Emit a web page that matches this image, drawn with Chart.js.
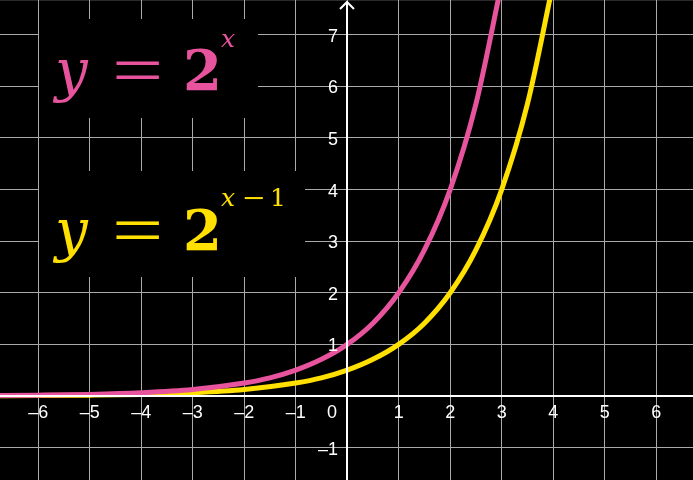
<!DOCTYPE html>
<html>
<head>
<meta charset="utf-8">
<script src="https://cdn.jsdelivr.net/npm/chart.js@4.4.1/dist/chart.umd.min.js"></script>
<style>
  html, body { margin: 0; padding: 0; background: #000; }
  canvas { display: block; }
</style>
</head>
<body>
<canvas id="expChart" width="693" height="480"></canvas>
<script>
// values
var pinkX = [-7, -6, -5, -4, -3, -2, -1.5, -1, -0.5, 0, 0.5, 1, 1.5, 2, 2.5, 3];
var pinkY = [0.008, 0.016, 0.031, 0.063, 0.125, 0.25, 0.35, 0.5, 0.71, 1, 1.41, 2, 2.83, 4, 5.66, 8];

var yellowX = [-7, -6, -5, -4, -3, -2, -1, -0.5, 0, 0.5, 1, 1.5, 2, 2.5, 3, 3.5, 4];
var yellowY = [0.004, 0.008, 0.016, 0.031, 0.063, 0.125, 0.25, 0.35, 0.5, 0.71, 1, 1.41, 2, 2.83, 4, 5.66, 8];

var xTicks = [-6, -5, -4, -3, -2, -1, 0, 1, 2, 3, 4, 5, 6];
var yTicks = [-1, 0, 1, 2, 3, 4, 5, 6, 7];

var PINK = 'rgb(231, 83, 156)';
var YELLOW = 'rgb(255, 224, 0)';
var GRID = 'rgb(170, 170, 170)';

function toPoints(xs, ys) {
    var pts = [];
    for (var i = 0; i < xs.length; i++) {
        pts.push({ x: xs[i], y: ys[i] });
    }
    return pts;
}

function label(v) {
    // en dash like the picture
    return v < 0 ? '\u2013' + Math.abs(v) : String(v);
}

// draws "y = 2" with the base line at by
function drawFormula(ctx, color, by) {
    ctx.fillStyle = color;
    ctx.font = 'italic 58px "DejaVu Serif"';
    ctx.fillText('y', 55, by);
    ctx.save();
    ctx.translate(112, by + 4);
    ctx.scale(1.3, 1);
    ctx.font = '70px "Liberation Serif"';
    ctx.fillText('=', 0, 0);
    ctx.restore();
    ctx.font = 'bold 56px "DejaVu Serif"';
    ctx.fillText('2', 183, by);
}

var drawExtras = {
    id: 'drawExtras',
    beforeDraw: function (chart) {
        var ctx = chart.ctx;
        ctx.save();
        ctx.fillStyle = '#000';
        ctx.fillRect(0, 0, chart.width, chart.height);
        ctx.fillStyle = '#2b2b2b';
        ctx.fillRect(0, 0, chart.width, 1);
        ctx.restore();
    },
    beforeDatasetsDraw: function (chart) {
        var ctx = chart.ctx;
        ctx.save();
        // black boxes behind the formulas
        ctx.fillStyle = '#000';
        ctx.fillRect(39, 19, 219, 99);
        ctx.fillRect(39, 171, 266, 106);

        ctx.textAlign = 'left';
        ctx.textBaseline = 'alphabetic';

        // y = 2^x
        drawFormula(ctx, PINK, 90);
        ctx.font = 'italic 25px "DejaVu Serif"';
        ctx.fillText('x', 221, 47);

        // y = 2^(x-1)
        drawFormula(ctx, YELLOW, 250);
        ctx.font = 'italic 25px "DejaVu Serif"';
        ctx.fillText('x', 221, 206);
        ctx.font = '25px "DejaVu Serif"';
        ctx.save();
        ctx.translate(242, 206);
        ctx.scale(1.15, 1);
        ctx.fillText('\u2212', 0, 0);
        ctx.restore();
        ctx.fillText('1', 270, 206);
        ctx.restore();
    },
    afterDraw: function (chart) {
        var ctx = chart.ctx;
        var xs = chart.scales.x;
        var ys = chart.scales.y;
        var ox = Math.round(xs.getPixelForValue(0));
        var oy = Math.round(ys.getPixelForValue(0));
        ctx.save();
        // axes
        ctx.strokeStyle = '#fff';
        ctx.lineWidth = 2;
        ctx.beginPath();
        ctx.moveTo(0, oy);
        ctx.lineTo(chart.width, oy);
        ctx.moveTo(ox, chart.height);
        ctx.lineTo(ox, 2);
        ctx.stroke();
        // arrow head on y axis
        ctx.beginPath();
        ctx.moveTo(ox - 7, 9);
        ctx.lineTo(ox, 2);
        ctx.lineTo(ox + 7, 9);
        ctx.stroke();

        // tick labels
        ctx.fillStyle = '#fff';
        ctx.font = '18px "Liberation Sans"';
        ctx.textBaseline = 'middle';
        ctx.textAlign = 'center';
        xTicks.forEach(function (v) {
            if (v === 0) return;
            ctx.fillText(label(v), xs.getPixelForValue(v), oy + 17);
        });
        ctx.fillText('0', ox - 15, oy + 17);
        ctx.textAlign = 'right';
        yTicks.forEach(function (v) {
            if (v === 0) return;
            ctx.fillText(label(v), ox - 9, ys.getPixelForValue(v) + 2);
        });
        ctx.restore();
    }
};

var ctx = document.getElementById('expChart').getContext('2d');
var chart = new Chart(ctx, {
    type: 'line',
    data: {
        datasets: [{
            label: 'y = 2^x',
            data: toPoints(pinkX, pinkY),
            borderColor: PINK,
            borderWidth: 5,
            pointRadius: 0,
            cubicInterpolationMode: 'monotone',
            fill: false
        }, {
            label: 'y = 2^(x-1)',
            data: toPoints(yellowX, yellowY),
            borderColor: YELLOW,
            borderWidth: 5,
            pointRadius: 0,
            cubicInterpolationMode: 'monotone',
            fill: false
        }]
    },
    options: {
        responsive: false,
        animation: false,
        events: [],
        layout: { padding: 0 },
        plugins: {
            legend: { display: false },
            tooltip: { enabled: false }
        },
        scales: {
            x: {
                type: 'linear',
                min: -6.742,
                max: 6.715,
                afterBuildTicks: function (scale) {
                    scale.ticks = xTicks.map(function (v) { return { value: v }; });
                },
                ticks: { display: false },
                border: { display: false },
                grid: { color: GRID, lineWidth: 1, drawTicks: false }
            },
            y: {
                type: 'linear',
                min: -1.628,
                max: 7.674,
                afterBuildTicks: function (scale) {
                    scale.ticks = yTicks.map(function (v) { return { value: v }; });
                },
                ticks: { display: false },
                border: { display: false },
                grid: { color: GRID, lineWidth: 1, drawTicks: false }
            }
        }
    },
    plugins: [drawExtras]
});
</script>
</body>
</html>
